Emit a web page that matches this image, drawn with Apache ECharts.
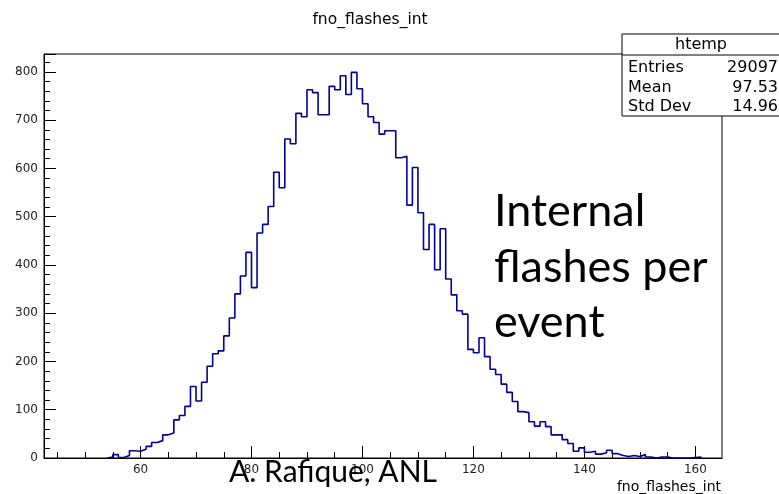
<!DOCTYPE html>
<html>
<head>
<meta charset="utf-8">
<script src="https://cdn.jsdelivr.net/npm/echarts@6/dist/echarts.min.js"></script>
<style>html,body{margin:0;padding:0;background:#fff;}#c{width:779px;height:494px;}</style>
</head>
<body>
<div id="c"></div>
<script>
// ---- data ----
const firstBinEdge = 54;   // left edge of first listed bin, bin width 1
const binCounts = [
  2, 7, 1, 5, 15, 14,                                   // 54-59
  18, 24, 32, 36, 48, 52, 79, 88, 107, 148,             // 60-69
  118, 157, 190, 216, 222, 253, 290, 340, 377, 426,     // 70-79
  353, 466, 484, 521, 592, 560, 661, 651, 714, 707,     // 80-89
  763, 757, 711, 711, 770, 763, 792, 753, 799, 765,     // 90-99
  734, 707, 695, 671, 678, 678, 622, 625, 524, 602,     // 100-109
  508, 432, 484, 390, 475, 371, 338, 305, 298, 225,     // 110-119
  218, 249, 210, 184, 173, 153, 136, 117, 96, 94,       // 120-129
  75, 66, 75, 65, 48, 48, 38, 30, 14, 21,               // 130-139
  12, 14, 8, 11, 16, 9, 5, 3, 5, 3,                     // 140-149
  7, 2, 0, 2, 2, 0, 0, 0, 0, 1, 2                       // 150-160
];
const xLabelValues = [60, 80, 100, 120, 140, 160];
const xMinorTickValues = [45, 50, 55, 60, 65, 70, 75, 80, 85, 90, 95, 100, 105, 110, 115, 120, 125, 130, 135, 140, 145, 150, 155, 160];
const statsLabels = ['Entries', 'Mean', 'Std Dev'];
const statsValues = ['29097', '97.53', '14.96'];
const histName = 'htemp';
const titleText = 'fno_flashes_int';
const xTitle = 'fno_flashes_int';
const noteLines = ['Internal', 'flashes per', 'event'];
const credit = 'A. Rafique, ANL';

// ---- build step outline ----
const pts = [[firstBinEdge, 0]];
binCounts.forEach((v, i) => pts.push([firstBinEdge + i, v]));
const lastEdge = firstBinEdge + binCounts.length;
pts.push([lastEdge, binCounts[binCounts.length - 1]]);
pts.push([lastEdge, 0]);

const chart = echarts.init(document.getElementById('c'), null, {renderer: 'canvas'});
const F = 'DejaVu Sans';
const XMIN = 42.6, XMAX = 164.8;

const graphics = [];
// title
graphics.push({type: 'text', z: 50, x: 370, y: 20,
  style: {text: titleText, font: '15.5px "' + F + '"', fill: '#000', align: 'center', verticalAlign: 'middle'}});
// stats box
graphics.push({type: 'rect', z: 100, shape: {x: 622, y: 34, width: 170, height: 82},
  style: {fill: '#fff', stroke: '#000', lineWidth: 1}});
graphics.push({type: 'line', z: 101, shape: {x1: 622, y1: 55, x2: 790, y2: 55},
  style: {stroke: '#000', lineWidth: 1}});
graphics.push({type: 'text', z: 102, x: 701, y: 45,
  style: {text: histName, font: '16px "' + F + '"', fill: '#000', align: 'center', verticalAlign: 'middle'}});
statsLabels.forEach((l, i) => {
  const y = 68 + i * 19.5;
  graphics.push({type: 'text', z: 102, x: 628, y: y,
    style: {text: l, font: '16px "' + F + '"', fill: '#000', align: 'left', verticalAlign: 'middle'}});
  graphics.push({type: 'text', z: 102, x: 778, y: y,
    style: {text: statsValues[i], font: '16px "' + F + '"', fill: '#000', align: 'right', verticalAlign: 'middle'}});
});
// x-axis title
graphics.push({type: 'text', z: 50, x: 721, y: 487,
  style: {text: xTitle, font: '14px "' + F + '"', fill: '#000', align: 'right', verticalAlign: 'middle'}});
// annotation
noteLines.forEach((t, i) => {
  graphics.push({type: 'text', z: 60, x: 494, y: 189 + i * 55.5,
    style: {text: t, font: '45px Lato', fill: '#000', align: 'left', verticalAlign: 'top'}});
});
graphics.push({type: 'text', z: 60, x: 229, y: 457,
  style: {text: credit, font: '30px Lato', fill: '#000', align: 'left', verticalAlign: 'top'}});

chart.setOption({
  animation: false,
  backgroundColor: '#fff',
  grid: {left: 44, right: 57, top: 54, bottom: 36, show: true, borderColor: '#000', borderWidth: 1, containLabel: false},
  xAxis: [
    {type: 'value', min: XMIN, max: XMAX, position: 'bottom',
      axisLine: {show: true, onZero: false, lineStyle: {color: '#000', width: 1}},
      axisTick: {show: true, inside: true, length: 12, customValues: xLabelValues, lineStyle: {color: '#000'}},
      axisLabel: {show: true, customValues: xLabelValues, margin: 6, color: '#222', fontFamily: F, fontSize: 12},
      splitLine: {show: false}},
    {type: 'value', min: XMIN, max: XMAX, position: 'bottom',
      axisLine: {show: false, onZero: false},
      axisTick: {show: true, inside: true, length: 6, customValues: xMinorTickValues, lineStyle: {color: '#000'}},
      axisLabel: {show: false},
      splitLine: {show: false}}
  ],
  yAxis: {type: 'value', min: 0, max: 837, interval: 100,
    axisLine: {show: true, lineStyle: {color: '#000', width: 1}},
    axisTick: {show: true, inside: true, length: 12, lineStyle: {color: '#000'}},
    minorTick: {show: true, splitNumber: 5, length: 6, lineStyle: {color: '#000'}},
    axisLabel: {margin: 6, color: '#222', fontFamily: F, fontSize: 12,
      formatter: v => (v <= 800 ? String(v) : '')},
    splitLine: {show: false}},
  series: [{
    type: 'line', xAxisIndex: 0, step: 'end', symbol: 'none', data: pts, clip: true,
    lineStyle: {color: '#000099', width: 1.6}
  }],
  graphic: graphics
});
</script>
</body>
</html>
